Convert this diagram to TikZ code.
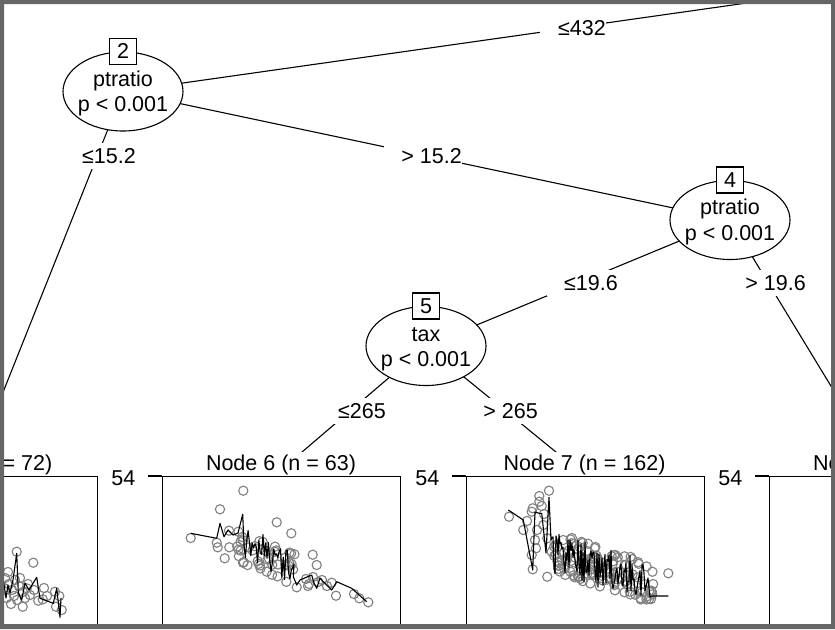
\documentclass[tikz,border=0pt]{standalone}
\usepackage{fontspec}
\setmainfont{Liberation Sans}
\usetikzlibrary{shapes.geometric}
\definecolor{framegray}{RGB}{102,102,102}
\definecolor{ptgray}{RGB}{128,128,128}
\begin{document}
\begin{tikzpicture}[x=1pt,y=-1pt,
  every node/.style={font=\fontsize{21.5}{25}\selectfont, inner sep=0pt},
  split/.style={draw, ellipse, fill=white, minimum width=120pt, minimum height=79pt, line width=1.1pt},
  idbox/.style={draw, fill=white, minimum width=27pt, minimum height=26pt, line width=1.1pt},
  ltext/.style={anchor=base},
  elabel/.style={fill=white, minimum height=26pt, anchor=base east},
  title/.style={fill=white, minimum height=26pt, anchor=base},
  conn/.style={line width=1.1pt},
  panel/.style={draw, line width=1.2pt, anchor=north west, minimum width=238pt, minimum height=250pt},
  tick/.style={line width=1.2pt},
  dot/.style={draw=ptgray, line width=1.1pt},
  fitline/.style={line width=1.1pt, line join=round}]
\useasboundingbox (0,0) rectangle (835,629);
\fill[white] (0,0) rectangle (835,629);
\begin{scope}
\clip (4,4) rectangle (831,624);
% node centres
\coordinate (c1) at (1057,-41);
\coordinate (c2) at (123,91.5);
\coordinate (c3) at (-28,470);
\coordinate (c4) at (730,220);
\coordinate (c5) at (426,346);
\coordinate (c6) at (281,470);
\coordinate (c7) at (578,470);
\coordinate (c8) at (882,470);
% connectors
\draw[conn] (c2) -- (c1);
\draw[conn] (c2) -- (c3);
\draw[conn] (c2) -- (c4);
\draw[conn] (c4) -- (c5);
\draw[conn] (c4) -- (c8);
\draw[conn] (c5) -- (c6);
\draw[conn] (c5) -- (c7);
% edge labels
\node[elabel] (e1) at (606,35) {\hspace*{18pt}≤432};
\node[elabel] (e2) at (136,163) {\hspace*{17pt}≤15.2};
\node[elabel] (e3) at (462,163.3) {\hspace*{17pt}> 15.2};
\node[elabel] (e4) at (618,290) {\hspace*{17pt}≤19.6};
\node[elabel] (e5) at (806,290) {\hspace*{17pt}> 19.6};
\node[elabel] (e6) at (386,418.3) {\hspace*{17pt}≤265};
\node[elabel] (e7) at (538,418.3) {\hspace*{17pt}> 265};
% inner nodes
\node[split] (n2) at (c2) {};
\node[idbox] (b2) at (n2.north) {2};
\node[ltext] (n2a) at (123,86.7) {ptratio};
\node[ltext] (n2b) at (123,111.7) {p < 0.001};
\node[split] (n4) at (c4) {};
\node[idbox] (b4) at (n4.north) {4};
\node[ltext] (n4a) at (730,214.5) {ptratio};
\node[ltext] (n4b) at (730,240) {p < 0.001};
\node[split] (n5) at (c5) {};
\node[idbox] (b5) at (n5.north) {5};
\node[ltext] (n5a) at (426,341) {tax};
\node[ltext] (n5b) at (426,366.2) {p < 0.001};
% terminal titles
\node[title, anchor=base east] (t3) at (52.5,470.7) {Node 3 (n = 72)};
\node[title] (t6) at (281,470.7) {Node 6 (n = 63)};
\node[title] (t7) at (584.5,470.7) {Node 7 (n = 162)};
\node[title, anchor=base west] (t8) at (813,470.7) {Node 8};
% panels
\node[panel] (p3) at (-141,476) {};
\node[panel] (p6) at (162,476) {};
\node[panel] (p7) at (466,476) {};
\node[panel] (p8) at (769,476) {};
\draw[tick] (p6.north west) -- ++(-14,0);
\draw[tick] (p7.north west) -- ++(-14,0);
\draw[tick] (p8.north west) -- ++(-14,0);
\node[anchor=base east] (y6) at (135.5,485) {54};
\node[anchor=base east] (y7) at (439.5,485) {54};
\node[anchor=base east] (y8) at (742.5,485) {54};
\pgfmathsetseed{12}
% ---- Node 3 panel (partly visible)
\foreach \px/\py in {16.7/551.7,33.3/562.7,22.7/606.7,38.3/600.7,42.7/599.3,55/591.7,59.3/596,56/606.7,61.7/610,26.7/588.3,6.7/598,5/578,9/584,12/590,15/580,19/586,23/592,28/584,30/595,8/572,14/596,20/578,4/588,11/604,34/590,47/596,44/588,17/600,25/598}
  \draw[dot] (\px,\py) circle[radius=4.6pt];
\draw[fitline] (-5,585) -- (3.3,580) -- (6,598) -- (8,585) -- (10,593) -- (13,580) -- (16.7,553.3) -- (18.3,593) -- (21.7,600) -- (25,583) -- (29,590) -- (36.7,577.3) -- (40,598.3) -- (53.3,603.3) -- (56.7,588.3) -- (60,617.3) -- (61,598);
% ---- Node 6 panel
\foreach \i in {1,...,42}{
  \pgfmathsetmacro{\px}{236+61*rnd}
  \pgfmathsetmacro{\py}{545+0.42*(\px-236)+16*rand}
  \draw[dot] (\px,\py) circle[radius=4.6pt];
}
\foreach \px/\py in {190.7/538,220/509.3,243.3/490.7,216.7/542.7,217.7/547.3,229/530.7,224.7/558.3,229.3/547.3,276.7/522.3,291.3/533.3,312.7/554.7,316.7/565,331.7/582.7,336/595.7,354/594,359.3/598.3,368.3/602.3,296.7/587.3,306/579,309/584,313/577,318/582,322/580,327/586,308/586}
  \draw[dot] (\px,\py) circle[radius=4.6pt];
\draw[fitline] (190.7,533.3) -- (216.7,538.3) -- (220,523.3) -- (224,536.7) -- (228,530) -- (233,535) -- (238,533) -- (242.7,514.3)
  \foreach \k in {1,...,38}{ -- ({242.7+1.35*\k},{540+0.55*1.35*\k+17*rand}) }
  -- (293.3,576.7) -- (296.7,585) -- (300,580) -- (311.7,575) -- (314,583) -- (316.7,588.3) -- (320,578) -- (323.3,581.7) -- (331.7,590) -- (336.7,581.7) -- (351.7,588.3) -- (366.7,601.7);
% ---- Node 7 panel
\foreach \i in {1,...,120}{
  \pgfmathsetmacro{\px}{550+105*rnd}
  \pgfmathsetmacro{\py}{551+0.32*(\px-550)+20*rand}
  \draw[dot] (\px,\py) circle[radius=4.6pt];
}
\foreach \px/\py in {509/516.7,523.3/530,531.7/511.7,532.7/508.3,539.3/496,539.3/501.7,549/490.7,541.7/506,543.3/525,536/548.3,531.7/555,532.7/569.3,547.3/538.3,547.3/576.7,668.3/573.3,527/521,535/540,544/514,537/530}
  \draw[dot] (\px,\py) circle[radius=4.6pt];
\draw[fitline] (508.3,510) -- (523.3,520) -- (532.7,570) -- (535,512) -- (539.3,513.3) -- (541.7,513.3) -- (546,553) -- (549,497.3) -- (551,540)
  \foreach \k in {0,...,93}{ -- ({552+\k},{551+0.32*(\k+2)+21*rand}) }
  -- (648,578) -- (650,597) -- (653,596) -- (668.3,596);
\end{scope}
% frame
\fill[framegray, even odd rule] (0,0) rectangle (835,629) (4,4) rectangle (831,624);
\end{tikzpicture}
\end{document}
